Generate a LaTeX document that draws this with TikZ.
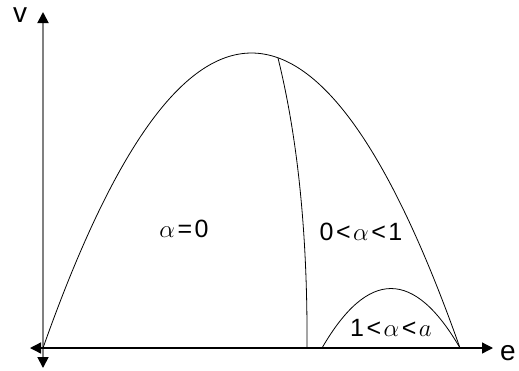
\documentclass[tikz,border=0pt]{standalone}
\usepackage{fontspec}
\setmainfont{Liberation Sans}
\usetikzlibrary{arrows.meta, positioning}
\definecolor{axisgray}{HTML}{808080}
\newcommand{\relsp}[1]{\kern2.5pt#1\kern2.5pt}
\tikzset{
  axis/.style={>={Triangle[length=11pt,width=11pt,color=black]}, <->, draw=#1},
  curve/.style={line width=0.8pt, black},
  axislabel/.style={font=\fontsize{28}{30}\selectfont, inner sep=0pt, anchor=base,
    text height=15pt, text depth=0pt},
  region/.style={font=\fontsize{25}{27}\selectfont, inner sep=0pt}
}

\begin{document}
\begin{tikzpicture}[x=1pt, y=-1pt]
  \useasboundingbox (0,0) rectangle (519,370);
  % axes
  \coordinate (o) at (43,348);
  \coordinate (vtop) at (43,12);
  \coordinate (vbot) at (43,368);
  \coordinate (eleft) at (30,348);
  \coordinate (eright) at (493,348);
  \draw[axis=axisgray, line width=1.8pt] (vbot) -- (vtop);
  \draw[axis=black, line width=1.3pt] (eleft) -- (eright);
  \node[axislabel] (vlab) at (20,22) {v};
  \node[axislabel] (elab) at (508,360) {e};
  % curves
  \coordinate (bigend) at (460,348);
  \coordinate (split) at (278,58);
  \coordinate (splitfoot) at (307,348);
  \coordinate (smallstart) at (322,348);
  \draw[curve] (o) .. controls (182,-45.3) and (321,-45.3) .. (bigend);
  \draw[curve] (split) .. controls (298,139) and (307.7,236) .. (splitfoot);
  \draw[curve] (smallstart) .. controls (368,268.7) and (414,268.7) .. (bigend);
  % regions
  \node[region] (zero) at (184,229) {$\alpha$\relsp{=}0};
  \node[region] (mid) at (361,232) {0\relsp{<}$\alpha$\relsp{<}1};
  \node[region] (high) at (391,328) {1\relsp{<}$\alpha$\relsp{<}$a$};
\end{tikzpicture}
\end{document}
